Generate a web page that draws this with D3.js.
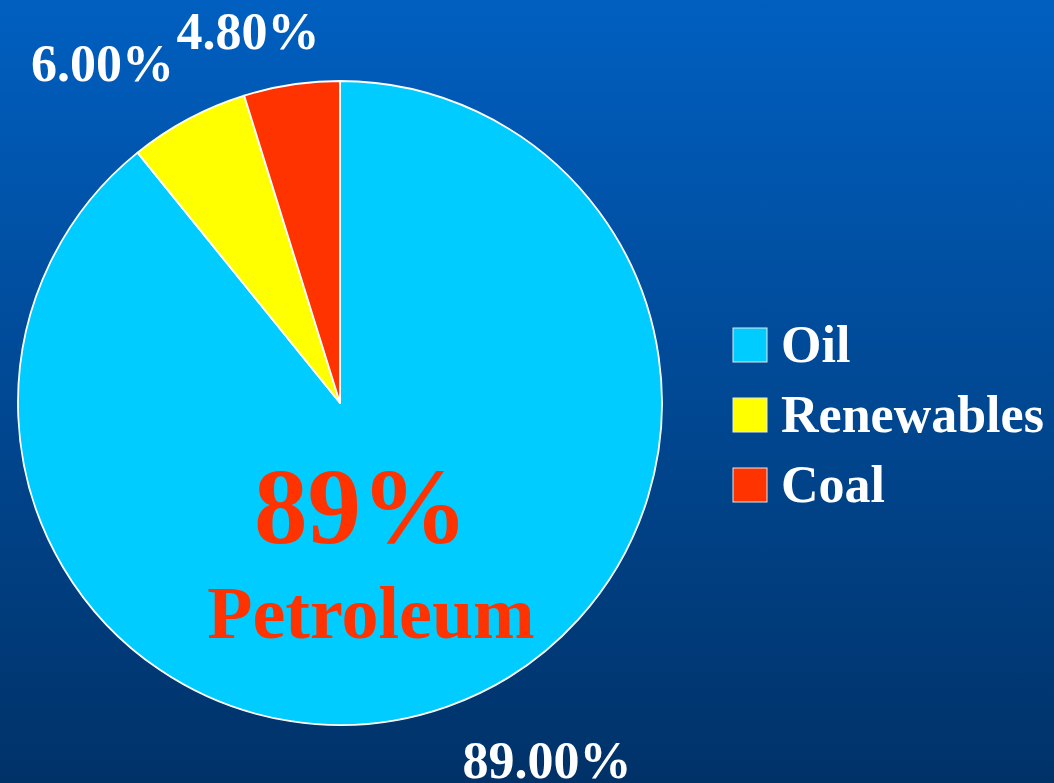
<!DOCTYPE html>
<html>
<head>
<meta charset="utf-8">
<script src="https://cdn.jsdelivr.net/npm/d3@7/dist/d3.min.js"></script>
<style>
  html, body { margin: 0; padding: 0; overflow: hidden; }
  svg { display: block; }
  text { font-family: "Liberation Serif", "Times New Roman", serif; font-weight: bold; }
</style>
</head>
<body>
<svg id="chart" width="1054" height="783"></svg>
<script>
const categories = ["Oil", "Renewables", "Coal"];
const values = [89.0, 6.0, 4.8];
const valueLabels = ["89.00%", "6.00%", "4.80%"];
const colors = ["#00CCFF", "#FFFF00", "#FF3300"];

const W = 1054, H = 783;
const svg = d3.select("#chart");

const defs = svg.append("defs");
const grad = defs.append("linearGradient").attr("id", "bg")
  .attr("x1", 0).attr("y1", 0).attr("x2", 0).attr("y2", 1);
grad.append("stop").attr("offset", "0%").attr("stop-color", "#005FC0");
grad.append("stop").attr("offset", "100%").attr("stop-color", "#003268");
svg.append("rect").attr("width", W).attr("height", H).attr("fill", "url(#bg)");

const cx = 340, cy = 403, R = 322;
const data = categories.map((c, i) => ({ cat: c, value: values[i], label: valueLabels[i], color: colors[i] }));

const pie = d3.pie().sort(null).value(d => d.value);
const arc = d3.arc().innerRadius(0).outerRadius(R);
const arcs = pie(data);

const g = svg.append("g").attr("transform", `translate(${cx},${cy})`);
g.selectAll("path").data(arcs).join("path")
  .attr("d", arc)
  .attr("fill", d => d.data.color)
  .attr("stroke", "#FFFFFF")
  .attr("stroke-width", 1.8)
  .attr("stroke-linejoin", "round");

// Data labels (outside end, nudged like the original)
const labelArc = d3.arc().innerRadius(R + 50).outerRadius(R + 50);
const nudges = { "Oil": [83, 24], "Renewables": [-62, 6], "Coal": [-36, 14] };
g.selectAll("text.lbl").data(arcs).join("text")
  .attr("class", "lbl")
  .attr("x", d => labelArc.centroid(d)[0] + nudges[d.data.cat][0])
  .attr("y", d => labelArc.centroid(d)[1] + nudges[d.data.cat][1])
  .attr("text-anchor", "middle")
  .attr("fill", "#FFFFFF")
  .attr("font-size", 52)
  .text(d => d.data.label);

// Big annotation
svg.append("text")
  .attr("x", 361).attr("y", 543)
  .attr("text-anchor", "middle")
  .attr("fill", "#FF3300")
  .attr("font-size", 107)
  .text("89%");
svg.append("text")
  .attr("x", 371).attr("y", 638)
  .attr("text-anchor", "middle")
  .attr("fill", "#FF3300")
  .attr("font-size", 74)
  .text("Petroleum");

// Legend
const leg = svg.append("g").attr("transform", "translate(733,328)");
const items = leg.selectAll("g").data(data).join("g")
  .attr("transform", (d, i) => `translate(0,${i * 70})`);
items.append("rect")
  .attr("width", 34).attr("height", 34)
  .attr("fill", d => d.color)
  .attr("stroke", "#E8E8E8").attr("stroke-width", 1);
items.append("text")
  .attr("x", 48).attr("y", 34)
  .attr("fill", "#FFFFFF")
  .attr("font-size", 52)
  .text(d => d.cat);
</script>
</body>
</html>
